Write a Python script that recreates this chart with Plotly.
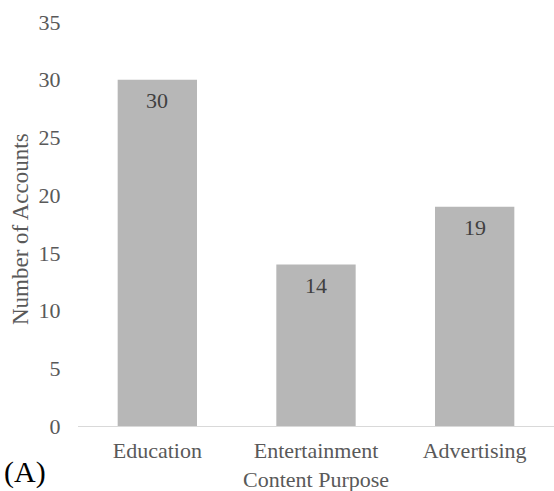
import plotly.graph_objects as go

categories = ["Education", "Entertainment", "Advertising"]
values = [30, 14, 19]
y_ticks = [0, 5, 10, 15, 20, 25, 30, 35]

FONT = "Liberation Serif, Times New Roman, serif"
GRAY = "#595959"

fig = go.Figure()
fig.add_trace(go.Bar(
    x=categories, y=values,
    marker=dict(color="#b7b7b7", line=dict(width=0)),
    hoverinfo="x+y",
))

annotations = []
for c, v in zip(categories, values):
    annotations.append(dict(
        x=c, y=v, xref="x", yref="y", text=str(v), showarrow=False,
        yshift=-21, xanchor="center", yanchor="middle",
        font=dict(family=FONT, size=22, color="#404040"),
    ))

annotations += [
    dict(text="Number of Accounts", xref="paper", yref="paper", x=0, y=0.5,
         xshift=-58, yshift=-5, xanchor="center", yanchor="middle",
         showarrow=False, textangle=-90,
         font=dict(family=FONT, size=23, color=GRAY)),
    dict(text="Content Purpose", xref="paper", yref="paper", x=0.5, y=0,
         yshift=-53, xanchor="center", yanchor="middle", showarrow=False,
         font=dict(family=FONT, size=22, color=GRAY)),
    dict(text="(A)", xref="paper", yref="paper", x=0, y=0, xshift=-76,
         yshift=-46, xanchor="left", yanchor="middle", showarrow=False,
         font=dict(family=FONT, size=30, color="#000000")),
]

fig.update_layout(
    width=554, height=491,
    margin=dict(l=78, r=0, t=22, b=65),
    paper_bgcolor="white", plot_bgcolor="white",
    bargap=0.5,
    showlegend=False,
    font=dict(family=FONT, color=GRAY),
    xaxis=dict(
        showline=True, linecolor="#d9d9d9", linewidth=1,
        showgrid=False, ticks="outside", ticklen=5, tickcolor="rgba(0,0,0,0)",
        tickfont=dict(family=FONT, size=22, color=GRAY),
    ),
    yaxis=dict(
        range=[0, 35], tickvals=y_ticks, showgrid=False, zeroline=False,
        showline=False, ticks="outside", ticklen=12, tickcolor="rgba(0,0,0,0)",
        tickfont=dict(family=FONT, size=22, color=GRAY),
    ),
    annotations=annotations,
)

fig.write_html("out.html")
